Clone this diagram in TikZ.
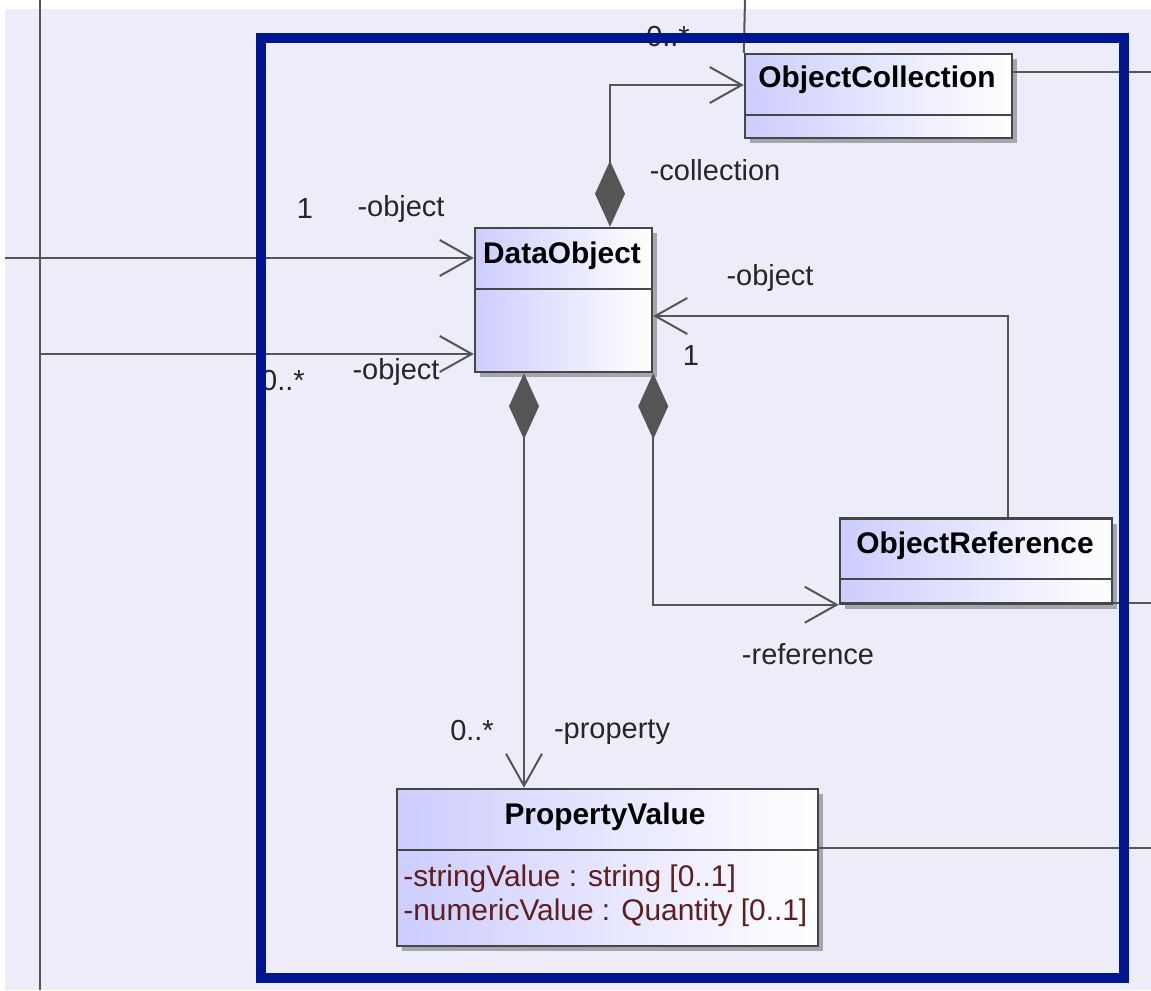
\documentclass[tikz,border=0pt]{standalone}
\usepackage{fontspec}
\setmainfont{Liberation Sans}
\usetikzlibrary{arrows.meta,shadows}
\definecolor{bg}{RGB}{237,237,250}
\definecolor{framec}{RGB}{0,22,145}
\definecolor{ln}{RGB}{85,85,85}
\definecolor{boxln}{RGB}{70,70,70}
\definecolor{cl}{RGB}{205,205,255}
\definecolor{attrc}{RGB}{95,30,30}
\begin{document}
\begin{tikzpicture}[x=0.02cm,y=-0.02cm,
  cls/.style={draw=boxln, line width=0.05cm, left color=cl, right color=white, inner sep=0pt,
    drop shadow={shadow xshift=0.1cm, shadow yshift=-0.1cm, fill=black, opacity=0.3}},
  divl/.style={draw=boxln, line width=0.05cm},
  plain/.style={draw=ln, line width=0.04cm},
  assoc/.style={plain, -{Straight Barb[length=0.64cm,width=0.72cm,line width=0.04cm]}},
  comp/.style={plain, {Diamond[length=1.32cm,width=0.6cm,fill=ln]}-{Straight Barb[length=0.64cm,width=0.72cm,line width=0.04cm]}},
  cname/.style={font=\fontsize{17}{20}\selectfont\bfseries, inner sep=0pt, text=black},
  lbl/.style={font=\fontsize{16.5}{20}\selectfont, inner sep=0pt, text=black!85},
  attr/.style={font=\fontsize{17}{20}\selectfont, inner sep=0pt, text=attrc, anchor=west},
  frm/.style={draw=framec, line width=0.2cm}
]
\useasboundingbox (0,0) rectangle (1151,990);
% background
\fill[white] (0,0) rectangle (1151,990);
\fill[bg] (5,9) rectangle (1151,990);

% class boxes
\node[cls, minimum width=5.34cm, minimum height=1.68cm] (oc) at (878.5,96) {};
\node[cls, minimum width=3.54cm, minimum height=2.88cm] (dobj) at (563.5,300) {};
\node[cls, minimum width=5.44cm, minimum height=1.70cm] (orf) at (976,561) {};
\node[cls, minimum width=8.42cm, minimum height=3.14cm] (pv) at (607.5,867.5) {};

\draw[divl] (oc.west |- 0,115) -- (oc.east |- 0,115);
\draw[divl] (dobj.west |- 0,289) -- (dobj.east |- 0,289);
\draw[divl] (orf.west |- 0,579) -- (orf.east |- 0,579);
\draw[divl] (pv.west |- 0,850) -- (pv.east |- 0,850);

\node[cname] (ocn) at (877,80) {ObjectCollection};
\node[cname] (don) at (562,256) {DataObject};
\node[cname] (orn) at (975,546) {ObjectReference};
\node[cname] (pvn) at (605,817) {PropertyValue};
\node[attr] (a1) at (403,879) {-stringValue : string [0..1]};
\node[attr] (a2) at (403,913) {-numericValue : Quantity [0..1]};

% free ends
\coordinate (vtop) at (40,0);
\coordinate (vbot) at (40,990);
\coordinate (h1) at (5,258);
\coordinate (h2) at (40,354);
\coordinate (octop) at (745,0);
\coordinate (ocr) at (1151,72);
\coordinate (orr) at (1151,603);
\coordinate (pvr) at (1151,848);
% bends
\coordinate (c1) at (610,85);
\coordinate (c2) at (1008,316);
\coordinate (c3) at (652,603);
\coordinate (c4) at (524,0);

% connectors
\draw[plain] (vtop) -- (vbot);
\draw[assoc] (h1) -- (h1 -| dobj.west);
\draw[assoc] (h2) -- (h2 -| dobj.west);
\draw[plain] (octop) -- (oc.north west);
\draw[plain] (ocr -| oc.east) -- (ocr);
\draw[plain] (orr -| orf.east) -- (orr);
\draw[plain] (pvr -| pv.east) -- (pvr);
\draw[comp] (dobj.north -| c1) |- (oc.west |- c1);
\draw[assoc] (orf.north -| c2) |- (dobj.east |- c2);
\draw[comp] (dobj.south east) |- (orf.south west);
\draw[comp] (dobj.south -| c4) -- (pv.north -| c4);

% labels
\node[lbl] (m1) at (668,37) {0..*};
\node[lbl] (r1) at (715,170) {-collection};
\node[lbl] (m2) at (305,209) {1};
\node[lbl] (r2) at (401,209) {-object};
\node[lbl] (m3) at (283,381) {0..*};
\node[lbl] (r3) at (396,372) {-object};
\node[lbl] (r4) at (770,278) {-object};
\node[lbl] (m4) at (691,356) {1};
\node[lbl] (r5) at (808,654) {-reference};
\node[lbl] (m5) at (472,731) {0..*};
\node[lbl] (r6) at (612,732) {-property};

% frame
\draw[frm] (261,38) rectangle (1124,978);
\end{tikzpicture}
\end{document}
